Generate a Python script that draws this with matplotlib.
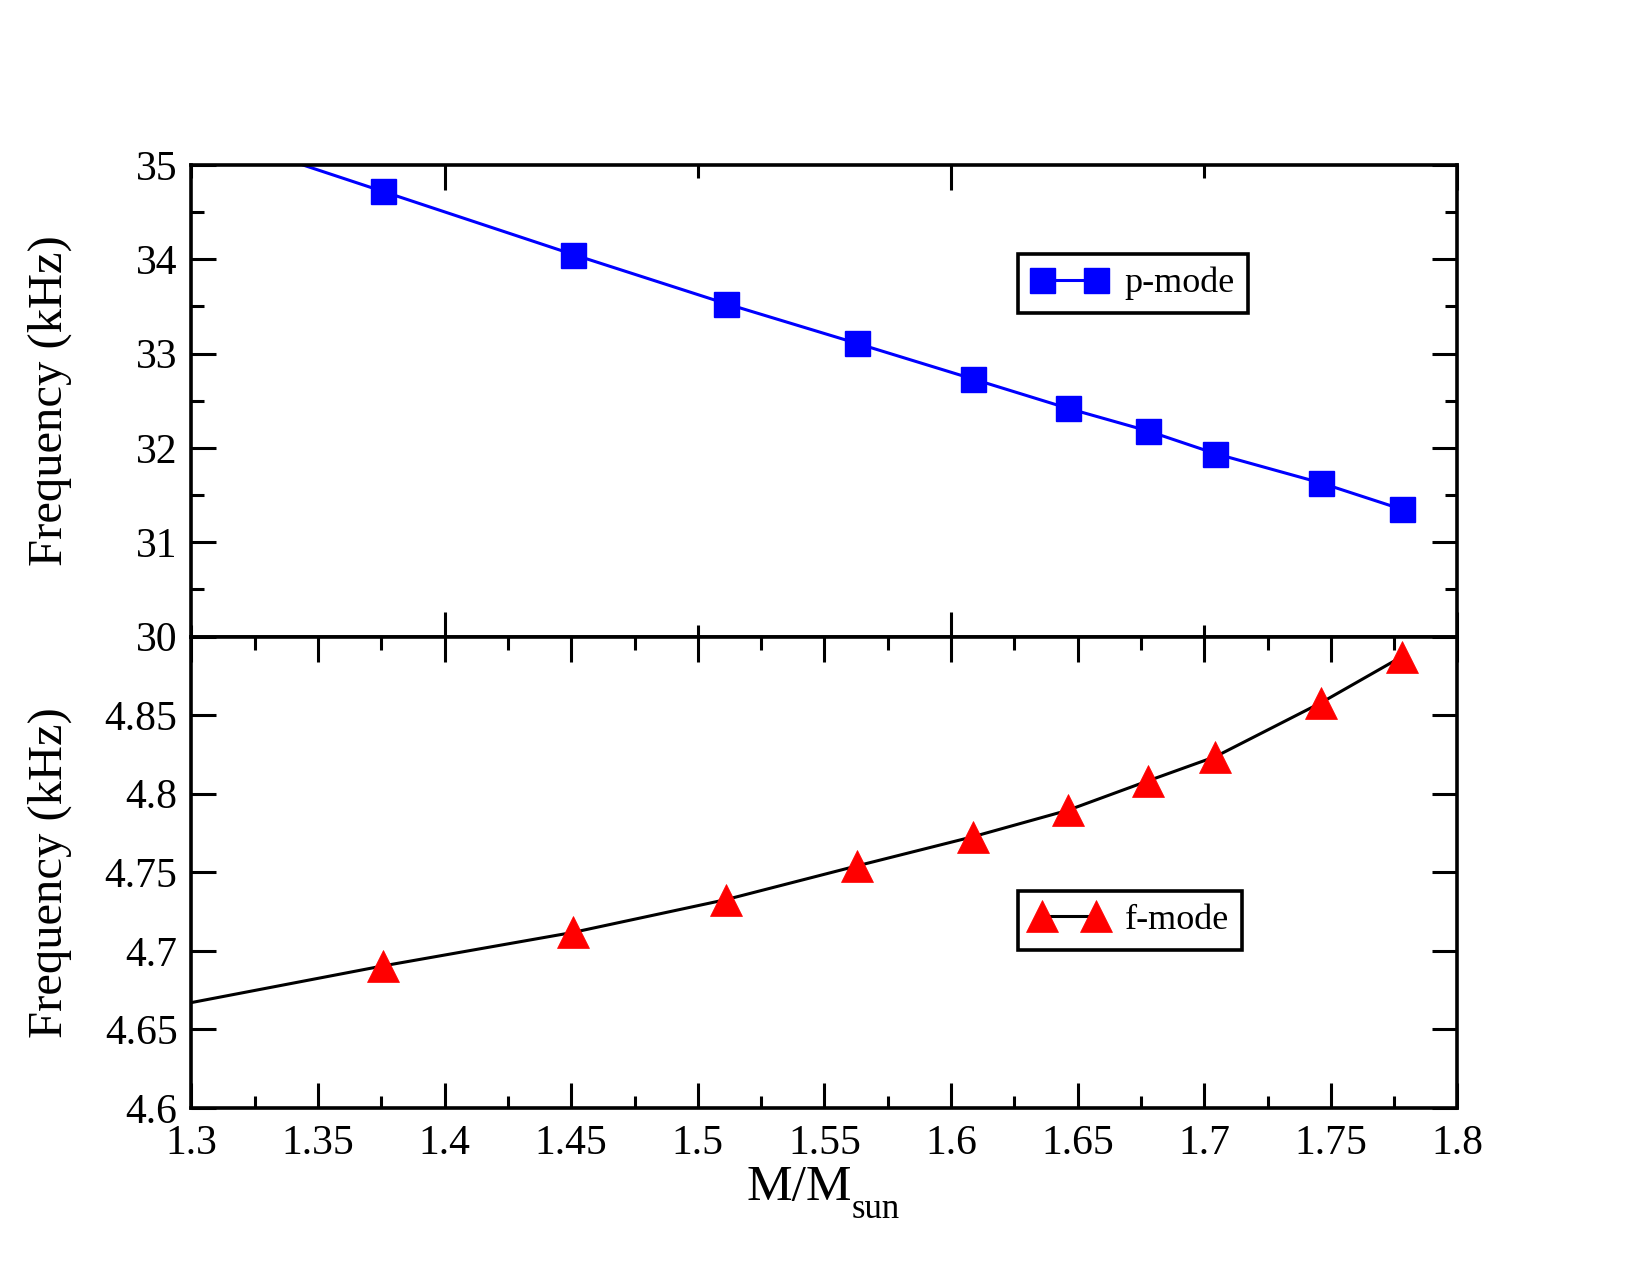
import matplotlib
matplotlib.use('Agg')
import matplotlib.pyplot as plt
from matplotlib.ticker import MultipleLocator, FixedLocator, FixedFormatter, NullFormatter

plt.rcParams['font.family'] = ['Liberation Serif', 'DejaVu Serif']

# stellar mass (M/Msun); first point lies just left of the plotted range
mass = [1.29, 1.3756, 1.4509, 1.5111, 1.5627, 1.6088, 1.6462, 1.6778, 1.7044, 1.7460, 1.7780]
p_mode = [35.48, 34.72, 34.05, 33.53, 33.11, 32.73, 32.42, 32.18, 31.94, 31.63, 31.35]
f_mode = [4.664, 4.6904, 4.7118, 4.7326, 4.7540, 4.7727, 4.7895, 4.8082, 4.8236, 4.8578, 4.8872]

x_ticks = [1.3, 1.35, 1.4, 1.45, 1.5, 1.55, 1.6, 1.65, 1.7, 1.75, 1.8]
x_labels = ['1.3', '1.35', '1.4', '1.45', '1.5', '1.55', '1.6', '1.65', '1.7', '1.75', '1.8']
f_ticks = [4.6, 4.65, 4.7, 4.75, 4.8, 4.85, 4.9]
f_labels = ['4.6', '4.65', '4.7', '4.75', '4.8', '4.85', '']
p_ticks = [30, 31, 32, 33, 34, 35]

fig = plt.figure(figsize=(16.5, 12.75), dpi=100)
left, right = 0.116, 0.8833
ax1 = fig.add_axes([left, 0.5007, right - left, 0.8706 - 0.5007])
ax2 = fig.add_axes([left, 0.131, right - left, 0.5007 - 0.131])

tick_kw = dict(direction='in', top=True, right=True, width=2.2, labelsize=30)
leg_kw = dict(loc='upper left', borderaxespad=0, fontsize=26, numpoints=2,
              handlelength=2.1, fancybox=False, edgecolor='black', framealpha=1,
              borderpad=0.35, handletextpad=0.5)

# upper panel: p-mode
ax1.plot(mass, p_mode, color='blue', linewidth=2.2, marker='s', markersize=18,
         markerfacecolor='blue', markeredgecolor='blue', markeredgewidth=1,
         label='p-mode')
ax1.set_xlim(1.3, 1.8)
ax1.set_ylim(30, 35)
ax1.xaxis.set_major_locator(MultipleLocator(0.2))
ax1.xaxis.set_minor_locator(MultipleLocator(0.1))
ax1.xaxis.set_major_formatter(NullFormatter())
ax1.yaxis.set_major_locator(FixedLocator(p_ticks))
ax1.yaxis.set_minor_locator(MultipleLocator(0.5))
ax1.tick_params(which='major', length=18, pad=10, **tick_kw)
ax1.tick_params(which='minor', length=9, direction='in', top=True, right=True, width=2.2)
ax1.set_ylabel('Frequency (kHz)', fontsize=35)
ax1.yaxis.set_label_coords(-0.094, 0.5)
leg1 = ax1.legend(bbox_to_anchor=(0.653, 0.811), **leg_kw)
leg1.get_frame().set_linewidth(2.6)

# lower panel: f-mode
ax2.plot(mass, f_mode, color='black', linewidth=2.2, marker='^', markersize=23,
         markerfacecolor='red', markeredgecolor='red', markeredgewidth=0.5,
         label='f-mode')
ax2.set_xlim(1.3, 1.8)
ax2.set_ylim(4.6, 4.9)
ax2.xaxis.set_major_locator(FixedLocator(x_ticks))
ax2.xaxis.set_major_formatter(FixedFormatter(x_labels))
ax2.xaxis.set_minor_locator(MultipleLocator(0.025))
ax2.yaxis.set_major_locator(FixedLocator(f_ticks))
ax2.yaxis.set_major_formatter(FixedFormatter(f_labels))
ax2.tick_params(which='major', length=18, pad=10, **tick_kw)
ax2.tick_params(axis='x', which='major', pad=12)
ax2.tick_params(which='minor', length=9, direction='in', top=True, right=True, width=2.2)
ax2.set_ylabel('Frequency (kHz)', fontsize=35)
ax2.yaxis.set_label_coords(-0.094, 0.5)

# x label with a low-set subscript
ax2.set_xlabel('M/M', fontsize=37, ha='right', va='baseline')
ax2.xaxis.set_label_coords(0.5217, -0.195)
ax2.text(0.5217, -0.233, 'sun', transform=ax2.transAxes, ha='left', va='baseline',
         fontsize=25)

leg2 = ax2.legend(bbox_to_anchor=(0.653, 0.4603), **leg_kw)
leg2.get_frame().set_linewidth(2.6)

for ax in (ax1, ax2):
    for sp in ax.spines.values():
        sp.set_linewidth(2.6)

fig.savefig('out.png', dpi=100)
